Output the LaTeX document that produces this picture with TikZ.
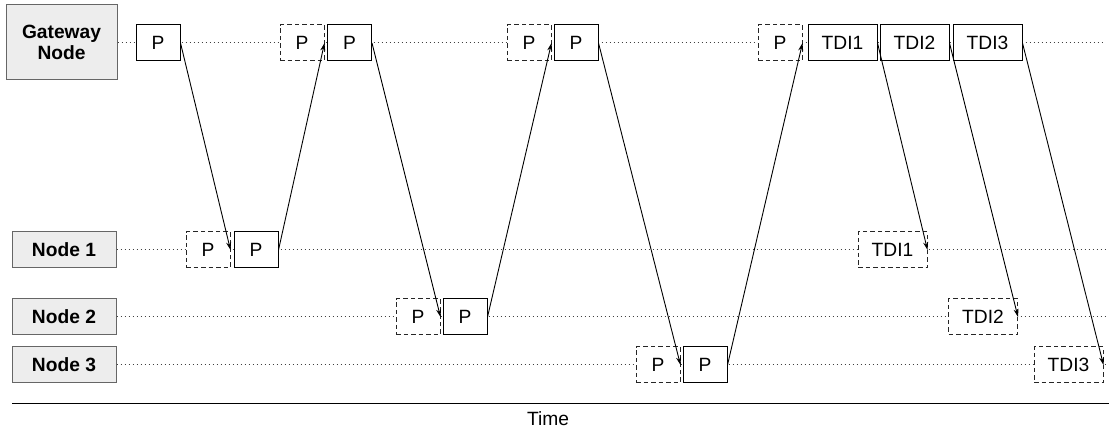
\documentclass[tikz,border=0pt]{standalone}
\usepackage{fontspec}
\setmainfont{Liberation Sans}
\usetikzlibrary{arrows.meta}
\begin{document}
\begin{tikzpicture}[x=1pt,y=-1pt,
  lbl/.style={draw=black!60, fill=black!7, line width=1pt, font=\fontsize{19.2}{21.5}\selectfont\bfseries, inner sep=0pt, align=center},
  pkt/.style={draw=black, fill=white, line width=1pt, inner sep=0pt, minimum height=36pt, font=\fontsize{19.2}{21.5}\selectfont},
  ppkt/.style={pkt, minimum width=44pt},
  tpkt/.style={pkt, minimum width=69pt},
  ghost/.style={draw=black!85, dash pattern=on 4.5pt off 3pt},
  tl/.style={line width=1pt, black!75, dash pattern=on 1.2pt off 2.8pt},
  msg/.style={-{Stealth[length=8pt,width=5pt]}, line width=0.9pt}
]
\useasboundingbox (0,0) rectangle (1109,435);

% row labels
\node[lbl, minimum width=111pt, minimum height=75pt] (gw) at (61.5,42.5) {Gateway\\Node};
\node[lbl, minimum width=104pt, minimum height=36pt] (l1) at (64,250) {Node 1};
\node[lbl, minimum width=104pt, minimum height=36pt] (l2) at (64,317) {Node 2};
\node[lbl, minimum width=104pt, minimum height=36pt] (l3) at (64,365) {Node 3};

% time lines
\coordinate (e0) at (1105,43);
\coordinate (e1) at (1105,250);
\coordinate (e2) at (1105,317);
\coordinate (e3) at (1105,365);
\draw[tl] (gw.east |- e0) -- (e0);
\draw[tl] (l1.east) -- (e1);
\draw[tl] (l2.east) -- (e2);
\draw[tl] (l3.east) -- (e3);

% gateway packets
\node[ppkt] (g1) at (158,43) {P};
\node[ppkt, ghost] (gd1) at (302,43) {P};
\node[ppkt] (g2) at (349.5,43) {P};
\node[ppkt, ghost] (gd2) at (529,43) {P};
\node[ppkt] (g3) at (576,43) {P};
\node[ppkt, ghost] (gd3) at (780,43) {P};
\node[tpkt] (t1) at (842.5,43) {TDI1};
\node[tpkt] (t2) at (914.5,43) {TDI2};
\node[tpkt] (t3) at (987.5,43) {TDI3};

% node 1
\node[ppkt, ghost] (n1d) at (208,250) {P};
\node[ppkt] (n1) at (256,250) {P};
\node[tpkt, ghost] (n1t) at (892.5,250) {TDI1};
% node 2
\node[ppkt, ghost] (n2d) at (418,317) {P};
\node[ppkt] (n2) at (465,317) {P};
\node[tpkt, ghost] (n2t) at (983,317) {TDI2};
% node 3
\node[ppkt, ghost] (n3d) at (658,365) {P};
\node[ppkt] (n3) at (705,365) {P};
\node[tpkt, ghost] (n3t) at (1068.5,365) {TDI3};

% messages
\draw[msg] (g1.east) -- (n1d.east);
\draw[msg] (n1.east) -- (gd1.east);
\draw[msg] (g2.east) -- (n2d.east);
\draw[msg] (n2.east) -- (gd2.east);
\draw[msg] (g3.east) -- (n3d.east);
\draw[msg] (n3.east) -- (gd3.east);
\draw[msg] (t1.east) -- (n1t.east);
\draw[msg] (t2.east) -- (n2t.east);
\draw[msg] (t3.east) -- (n3t.east);

% time axis
\coordinate (a0) at (12,404);
\coordinate (a1) at (1109,404);
\draw[line width=1pt] (a0) -- (a1);
\node[font=\fontsize{19.2}{21.5}\selectfont] (time) at (548,419) {Time};
\end{tikzpicture}
\end{document}
